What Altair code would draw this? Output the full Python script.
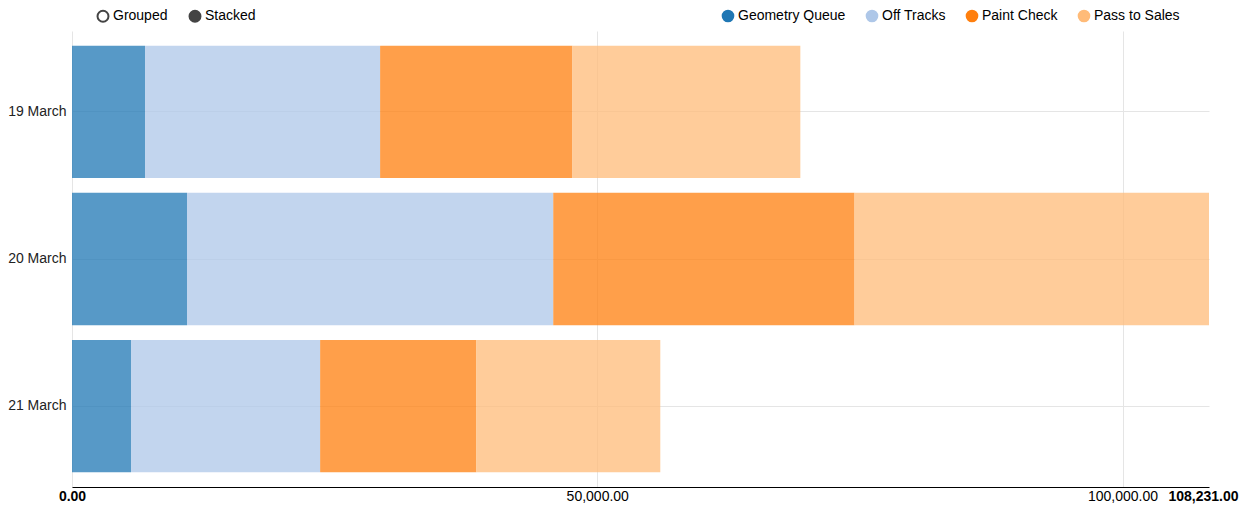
import altair as alt
import pandas as pd

dates = ["19 March", "20 March", "21 March"]
series = ["Geometry Queue", "Off Tracks", "Paint Check", "Pass to Sales"]
geometry_queue = [6950, 10950, 5620]
off_tracks = [22380, 34860, 18000]
paint_check = [18290, 28670, 14860]
pass_to_sales = [21710, 33751, 17520]
colors = ["#1f77b4", "#aec7e8", "#ff7f0e", "#ffbb78"]
modes = ["Grouped", "Stacked"]
mode_fills = ["#ffffff", "#444444"]

FONT = "Liberation Sans"

values = [geometry_queue, off_tracks, paint_check, pass_to_sales]
rows = []
for si, (s, vals) in enumerate(zip(series, values)):
    for d, v in zip(dates, vals):
        rows.append({"date": d, "series": s, "value": v, "order": si})
df = pd.DataFrame(rows)
max_total = int(df.groupby("date")["value"].sum().max())
tick_values = [0, 50000, 100000, max_total]
bold_test = f"datum.value == 0 || datum.value == {max_total}"
max_test = f"datum.value == {max_total}"

bars = alt.Chart(df).mark_bar(opacity=0.75).encode(
    x=alt.X(
        "sum(value):Q",
        stack="zero",
        scale=alt.Scale(domain=[0, max_total], nice=False),
        axis=alt.Axis(
            values=tick_values,
            format=",.2f",
            title=None,
            ticks=False,
            labelPadding=2,
            labelFontSize=14,
            labelFont=FONT,
            labelColor="#000",
            labelFlush=False,
            labelOverlap=False,
            labelOffset={"condition": {"test": max_test, "value": -6}, "value": 0},
            labelFontWeight={"condition": {"test": bold_test, "value": "bold"}, "value": "normal"},
            gridColor={"condition": {"test": max_test, "value": "transparent"}, "value": "#e5e5e5"},
            domainColor="#000",
            domainWidth=1,
        ),
    ),
    y=alt.Y(
        "date:N",
        sort=dates,
        scale=alt.Scale(paddingInner=0.1, paddingOuter=0.1),
        axis=alt.Axis(
            title=None,
            ticks=False,
            domain=False,
            grid=True,
            gridColor="#e5e5e5",
            labelPadding=6,
            labelFontSize=14,
            labelFont=FONT,
            labelColor="#222",
        ),
    ),
    color=alt.Color(
        "series:N",
        scale=alt.Scale(domain=series, range=colors),
        legend=alt.Legend(
            orient="none",
            legendX=649,
            legendY=-22,
            direction="horizontal",
            title=None,
            symbolType="circle",
            symbolSize=160,
            symbolOpacity=1,
            symbolStrokeWidth=0,
            labelFontSize=14,
            labelFont=FONT,
            labelColor="#000",
            columnPadding=19,
            labelOffset=3,
            padding=0,
        ),
    ),
    order=alt.Order("order:Q"),
)

modes_df = pd.DataFrame({"mode": modes})
mode_layer = alt.Chart(modes_df).mark_point(size=0, filled=True).encode(
    fill=alt.Fill(
        "mode:N",
        scale=alt.Scale(domain=modes, range=mode_fills),
        legend=alt.Legend(
            orient="none",
            legendX=24,
            legendY=-22,
            direction="horizontal",
            title=None,
            symbolType="circle",
            symbolSize=120,
            symbolOpacity=1,
            symbolStrokeColor="#444444",
            symbolStrokeWidth=2,
            labelFontSize=14,
            labelFont=FONT,
            labelColor="#000",
            columnPadding=17,
            labelOffset=3,
            padding=0,
        ),
    ),
)

chart = alt.layer(bars, mode_layer).properties(
    width=1137,
    height=456,
    padding={"left": 64, "top": 23, "right": 30, "bottom": 19},
    autosize=alt.AutoSizeParams(type="none"),
).configure_view(stroke=None)

chart.save("out.html", embed_options={"renderer": "svg", "actions": False})
